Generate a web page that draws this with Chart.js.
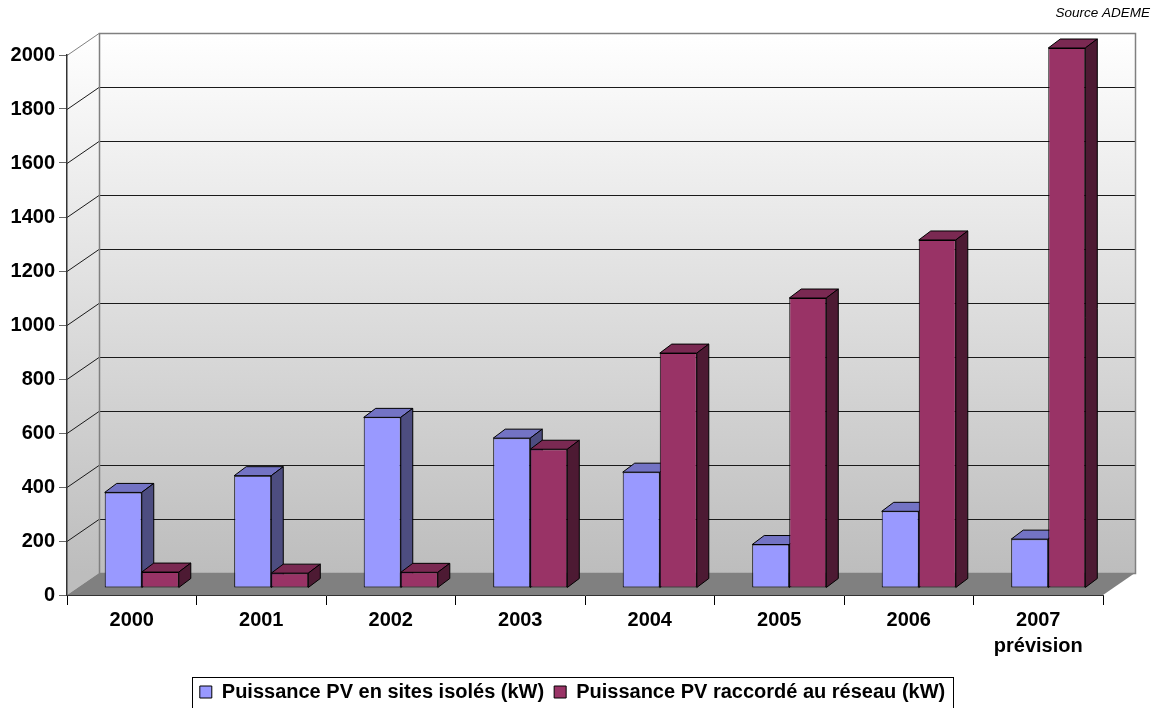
<!DOCTYPE html>
<html>
<head>
<meta charset="utf-8">
<script src="https://cdn.jsdelivr.net/npm/chart.js@4.4.0/dist/chart.umd.min.js"></script>
<style>
  html, body { margin: 0; padding: 0; background: #fff; }
</style>
</head>
<body>
<canvas id="chart" width="1157" height="708"></canvas>
<script>
const years = ['2000', '2001', '2002', '2003', '2004', '2005', '2006', ['2007', 'prévision']];
const isolatedKW = [354, 416, 632, 555, 429, 161, 284, 181];
const gridKW = [59, 55, 58, 514, 870, 1074, 1289, 2000];
const seriesNames = ['Puissance PV en sites isolés (kW)', 'Puissance PV raccordé au réseau (kW)'];
const sourceText = 'Source ADEME';

// 3d look: depth of the box, and where bars sit inside it
const WALL = { x: 32, y: -22 };
const BAR_OFF = { x: 10, y: -7 };
const BAR_DEPTH = { x: 12, y: -9 };
const LEGEND_SHIFT = 21;

const faceColors = [
    { top: '#7373c4', side: '#4d4d80' },
    { top: '#7a2952', side: '#4d1a33' }
];

function poly(ctx, pts, fill, stroke) {
    ctx.beginPath();
    ctx.moveTo(pts[0][0], pts[0][1]);
    for (let i = 1; i < pts.length; i++) ctx.lineTo(pts[i][0], pts[i][1]);
    ctx.closePath();
    if (fill) { ctx.fillStyle = fill; ctx.fill(); }
    if (stroke) { ctx.strokeStyle = stroke; ctx.lineWidth = 1; ctx.stroke(); }
}

const threeD = {
    id: 'threeD',
    beforeDraw(chart) {
        const { ctx, chartArea: a, scales: { y } } = chart;
        // legend sits a bit right of centre in the original
        const lg = chart.legend;
        if (lg && !lg._shifted) {
            lg.left += LEGEND_SHIFT;
            lg.right += LEGEND_SHIFT;
            lg.legendHitBoxes.forEach(h => { h.left += LEGEND_SHIFT; });
            lg._shifted = true;
        }
        const bx = a.left + WALL.x, by = a.top + WALL.y;
        const floorY = a.bottom + WALL.y;
        ctx.save();
        // back wall
        let g = ctx.createLinearGradient(0, by, 0, floorY);
        g.addColorStop(0, '#ffffff');
        g.addColorStop(1, '#bdbdbd');
        ctx.fillStyle = g;
        ctx.fillRect(bx, by, a.right - a.left, floorY - by);
        // left side wall
        poly(ctx, [[a.left, a.top], [bx, by], [bx, floorY], [a.left, a.bottom]], g);
        // floor
        poly(ctx, [[a.left, a.bottom], [a.right, a.bottom], [a.right + WALL.x, floorY], [bx, floorY]], '#808080');
        // grid lines: diagonal on side wall, flat on back wall
        ctx.lineWidth = 1;
        y.ticks.forEach(t => {
            if (t.value === 0) return;
            const py = Math.round(y.getPixelForValue(t.value)) + 0.5;
            ctx.strokeStyle = t.value === 2000 ? '#808080' : '#1a1a1a';
            ctx.beginPath();
            ctx.moveTo(a.left, py);
            ctx.lineTo(bx, py + WALL.y);
            if (t.value !== 2000) ctx.lineTo(a.right + WALL.x, py + WALL.y);
            ctx.stroke();
        });
        // wall edges
        ctx.strokeStyle = '#808080';
        ctx.lineWidth = 1.5;
        ctx.strokeRect(bx + 0.5, by + 0.5, a.right - a.left, floorY - by);
        ctx.restore();
    },
    // bars are drawn below, series by series, so faces overlap the right way
    beforeDatasetDraw() {
        return false;
    },
    afterDatasetsDraw(chart) {
        const ctx = chart.ctx;
        ctx.save();
        ctx.translate(BAR_OFF.x, BAR_OFF.y);
        chart.data.datasets.forEach((ds, i) => {
            const c = faceColors[i];
            chart.getDatasetMeta(i).data.forEach(bar => {
                bar.draw(ctx);
                const { x, y, base, width } = bar.getProps(['x', 'y', 'base', 'width'], true);
                const l = x - width / 2, r = x + width / 2;
                const dx = BAR_DEPTH.x, dy = BAR_DEPTH.y;
                poly(ctx, [[l, y], [l + dx, y + dy], [r + dx, y + dy], [r, y]], c.top, '#000');
                poly(ctx, [[r, y], [r + dx, y + dy], [r + dx, base + dy], [r, base]], c.side, '#000');
            });
        });
        ctx.restore();
    },
    afterDraw(chart) {
        const ctx = chart.ctx;
        const lg = chart.legend;
        ctx.save();
        if (lg && lg.legendHitBoxes.length) {
            // legend frame, its bottom edge falls below the canvas like in the original
            const hb = lg.legendHitBoxes;
            const left = hb[0].left - 8;
            const last = hb[hb.length - 1];
            const right = last.left + last.width + 8;
            const mid = hb[0].top + hb[0].height / 2;
            ctx.strokeStyle = '#000';
            ctx.lineWidth = 1;
            ctx.strokeRect(Math.round(left) + 0.5, Math.round(mid - 15) + 0.5, Math.round(right - left), 40);
        }
        ctx.fillStyle = '#000';
        ctx.font = 'italic 13.5px "Liberation Sans", Arial, sans-serif';
        ctx.textAlign = 'right';
        ctx.textBaseline = 'middle';
        ctx.fillText(sourceText, 1150, 13);
        ctx.restore();
    }
};

Chart.defaults.font.family = '"Liberation Sans", Arial, sans-serif';
Chart.defaults.color = '#000';

new Chart(document.getElementById('chart'), {
    type: 'bar',
    data: {
        labels: years,
        datasets: [{
            label: seriesNames[0],
            data: isolatedKW,
            backgroundColor: '#9999ff',
            borderColor: '#000',
            borderWidth: 1,
            borderSkipped: false
        }, {
            label: seriesNames[1],
            data: gridKW,
            backgroundColor: '#993366',
            borderColor: '#000',
            borderWidth: 1,
            borderSkipped: false
        }]
    },
    options: {
        responsive: false,
        animation: false,
        devicePixelRatio: 1,
        layout: { padding: { left: 0, right: 54, top: 55, bottom: 0 } },
        datasets: { bar: { barPercentage: 1, categoryPercentage: 0.572 } },
        scales: {
            x: {
                afterFit: s => { s.height = 77; },
                grid: { drawOnChartArea: false, tickLength: 10, color: '#000' },
                border: { color: '#333', width: 1 },
                ticks: { font: { size: 20, weight: 'bold', lineHeight: 1.3 }, padding: 2, maxRotation: 0 }
            },
            y: {
                min: 0,
                max: 2000,
                afterFit: s => { s.width = 67; },
                grid: { drawOnChartArea: false, tickLength: 8, color: '#666' },
                border: { color: '#333', width: 1.5 },
                ticks: { stepSize: 200, font: { size: 20, weight: 'bold' }, padding: 4, callback: v => String(v) }
            }
        },
        plugins: {
            tooltip: { enabled: false },
            legend: {
                position: 'bottom',
                maxHeight: 36,
                labels: {
                    boxWidth: 12,
                    boxHeight: 12,
                    padding: 10,
                    font: { size: 20, weight: 'bold' }
                }
            }
        }
    },
    plugins: [threeD]
});
</script>
</body>
</html>
